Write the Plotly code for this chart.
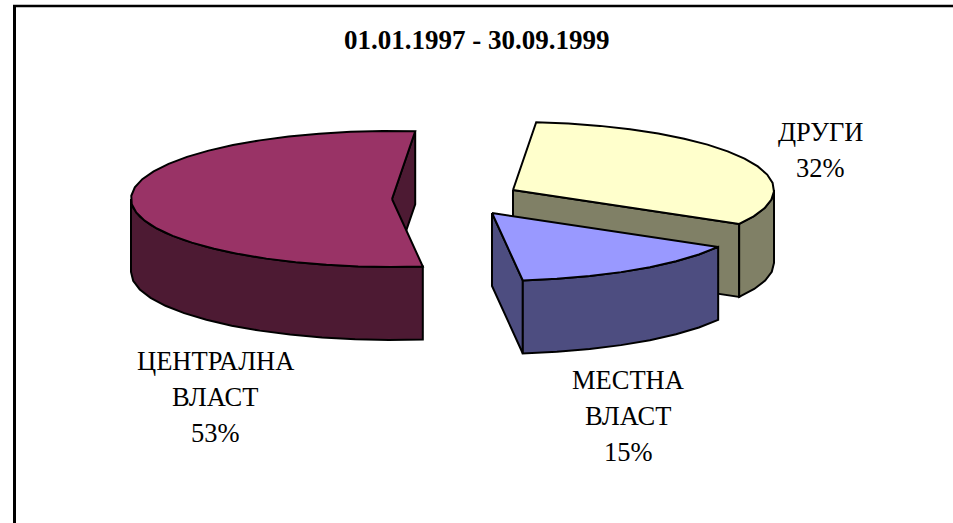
import math
import plotly.graph_objects as go

title = "01.01.1997 - 30.09.1999"
categories = [["ЦЕНТРАЛНА", "ВЛАСТ"], ["ДРУГИ"], ["МЕСТНА", "ВЛАСТ"]]
values = [53.3, 31.9, 14.8]
top_colors = ["#993366", "#FFFFCC", "#9999FF"]
side_colors = ["#4D1A33", "#808066", "#4D4D80"]

# Pie projection (page pixels)
RX, RY, DEPTH = 261, 68, 73
START = 84.9
apexes = [(392, 199), (513, 190), (492, 213)]
label_pos = [(215, 361), (820, 132), (628, 380)]
FONT = "Liberation Serif, Times New Roman, serif"
STEP = 7


def rim(c, a0, a1, dy=0):
    n = max(1, int(abs(a1 - a0) / STEP))
    return [(c[0] + RX * math.cos(math.radians(a0 + (a1 - a0) * i / n)),
             c[1] - RY * math.sin(math.radians(a0 + (a1 - a0) * i / n)) + dy)
            for i in range(n + 1)]


def poly(fig, pts, color):
    xs = [p[0] for p in pts] + [pts[0][0]]
    ys = [p[1] for p in pts] + [pts[0][1]]
    fig.add_trace(go.Scatter(x=xs, y=ys, mode="lines", fill="toself", fillcolor=color,
                             line=dict(color="black", width=2), hoverinfo="skip",
                             showlegend=False))


def wall(c, a0, a1):
    return rim(c, a0, a1) + rim(c, a1, a0, DEPTH)


def cut(c, a):
    p = rim(c, a, a)[0]
    return [c, p, (p[0], p[1] + DEPTH), (c[0], c[1] + DEPTH)]


# slice angles, clockwise from START
spans = [v / sum(values) * 360 for v in values]
a_other0 = START
a_other1 = a_other0 - spans[1]
a_local1 = a_other1 - spans[2]
a_cent0 = START
a_cent1 = START + spans[0]

fig = go.Figure()

# central slice
c = apexes[0]
poly(fig, cut(c, a_cent0), side_colors[0])
poly(fig, wall(c, 180, a_cent1), side_colors[0])
poly(fig, [c] + rim(c, a_cent0, a_cent1), top_colors[0])

# other slice
c = apexes[1]
poly(fig, cut(c, a_other1), side_colors[1])
poly(fig, wall(c, a_other1, 0), side_colors[1])
poly(fig, [c] + rim(c, a_other0, a_other1), top_colors[1])

# local slice
c = apexes[2]
poly(fig, cut(c, a_local1), side_colors[2])
poly(fig, wall(c, a_local1, a_other1), side_colors[2])
poly(fig, [c] + rim(c, a_other1, a_local1), top_colors[2])

annotations = [dict(x=477, y=40, text=f"<b>{title}</b>", showarrow=False,
                    font=dict(family=FONT, size=27, color="black"))]
for name_lines, v, (lx, ly) in zip(categories, values, label_pos):
    lines = name_lines + [f"{round(v)}%"]
    for i, line in enumerate(lines):
        annotations.append(dict(x=lx, y=ly + 36 * i, text=line, showarrow=False,
                                font=dict(family=FONT, size=26.5, color="black")))

fig.update_layout(
    width=953, height=523, margin=dict(l=0, r=0, t=0, b=0),
    paper_bgcolor="white", plot_bgcolor="white", showlegend=False,
    xaxis=dict(range=[0, 953], visible=False, fixedrange=True),
    yaxis=dict(range=[523, 0], visible=False, fixedrange=True),
    annotations=annotations,
    shapes=[
        dict(type="line", x0=14.5, x1=14.5, y0=6, y1=523, line=dict(color="black", width=3)),
        dict(type="line", x0=13, x1=953, y0=6, y1=6, line=dict(color="black", width=2.5)),
    ],
)
fig.write_html("out.html", config={"displayModeBar": False},
               post_script="document.body.style.margin='0';document.body.style.overflow='hidden';")
